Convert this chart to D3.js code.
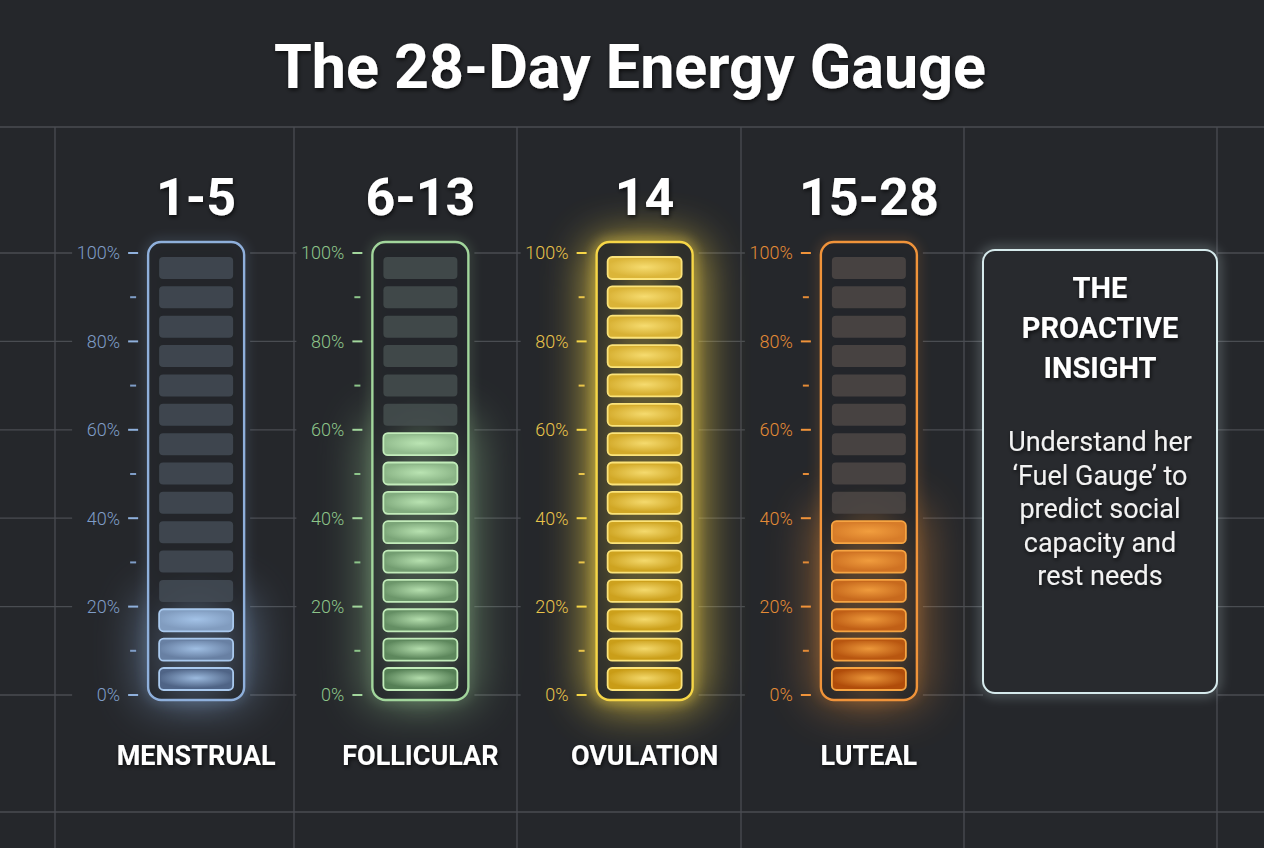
<!DOCTYPE html>
<html lang="en">
<head>
<meta charset="UTF-8" />
<title>The 28-Day Energy Gauge</title>
<script src="https://d3js.org/d3.v7.min.js"></script>
<style>
  html, body { margin: 0; padding: 0; background: #25272b; }
  body { font-family: Roboto, "Noto Sans", sans-serif; }
  svg { display: block; }
</style>
</head>
<body>
<div id="chart"></div>
<script>
// data
const phases = ["MENSTRUAL", "FOLLICULAR", "OVULATION", "LUTEAL"];
const dayRanges = ["1-5", "6-13", "14", "15-28"];
const energyPct = [20, 60, 100, 40];
const majorTicks = [0, 20, 40, 60, 80, 100];
const minorTicks = [10, 30, 50, 70, 90];
const segmentCount = 15;

// colours per phase
const strokeColors = ["#8fb0dc", "#a2d69c", "#f6d647", "#f0933a"];
const labelColors = ["#7f9dc7", "#8dc58a", "#e9c44a", "#e48b36"];
const fillDark = ["#4f6486", "#557f55", "#c99c16", "#b04c0a"];
const fillLight = ["#a9c9ee", "#c2ecba", "#fbe37a", "#f6a442"];

const insightTitle = ["THE", "PROACTIVE", "INSIGHT"];
const insightBody = ["Understand her", "\u2018Fuel Gauge\u2019 to", "predict social", "capacity and", "rest needs"];

const W = 1264, H = 848;
const bg = "#25272b";
const gridColor = "#4a4d52";

const svg = d3.select("#chart").append("svg")
  .attr("width", W).attr("height", H);

const defs = svg.append("defs");
[3, 6, 14, 22].forEach(s => {
  defs.append("filter").attr("id", "blur" + s)
    .attr("x", "-100%").attr("y", "-100%").attr("width", "300%").attr("height", "300%")
    .append("feGaussianBlur").attr("stdDeviation", s);
});
const sh = defs.append("filter").attr("id", "shadow")
  .attr("x", "-20%").attr("y", "-40%").attr("width", "140%").attr("height", "180%");
sh.append("feDropShadow").attr("dx", 1).attr("dy", 2).attr("stdDeviation", 2)
  .attr("flood-color", "#000").attr("flood-opacity", 0.7);

svg.append("rect").attr("width", W).attr("height", H).attr("fill", bg);

// scales
const x = d3.scaleBand().domain(phases).range([84, 981]);
const y = d3.scaleLinear().domain([0, 100]).range([695, 253]);
const seg = d3.scaleBand().domain(d3.range(segmentCount))
  .range([y(0) - 5, y(100) + 4]).paddingInner(0.25);
const cx = p => x(p) + x.bandwidth() / 2;

const gaugeW = 96, segW = 74;
const box = { x: 983, y: 250, w: 234, h: 443 };

// grid
const grid = svg.append("g");
const gridX = [55, 294, 517, 741, 964, 1217];
grid.selectAll("line.v").data(gridX).join("line")
  .attr("x1", d => d).attr("x2", d => d).attr("y1", 127).attr("y2", H)
  .attr("stroke", gridColor).attr("stroke-width", 1.3);
grid.selectAll("line.h").data([127, 812]).join("line")
  .attr("x1", 0).attr("x2", W).attr("y1", d => d).attr("y2", d => d)
  .attr("stroke", gridColor).attr("stroke-width", 1.3);

// tick rows, broken around each gauge and the insight box
const gaps = phases.map(p => [cx(p) - 124, cx(p) + 54]).concat([[box.x, box.x + box.w]]);
const rowPieces = [];
let start = 0;
gaps.forEach(g => { rowPieces.push([start, g[0]]); start = g[1]; });
rowPieces.push([start, W]);
majorTicks.forEach(t => {
  grid.selectAll(null).data(rowPieces).join("line")
    .attr("x1", d => d[0]).attr("x2", d => d[1])
    .attr("y1", y(t)).attr("y2", y(t))
    .attr("stroke", gridColor).attr("stroke-width", 1.3);
});

// title
svg.append("text").attr("x", 630).attr("y", 88)
  .attr("text-anchor", "middle").attr("fill", "#fff")
  .attr("font-size", 61).attr("font-weight", 700)
  .attr("filter", "url(#shadow)")
  .text("The 28-Day Energy Gauge");

// gauges
phases.forEach((p, i) => {
  const c = cx(p);
  const g = svg.append("g");
  const filled = Math.round(energyPct[i] / 100 * segmentCount);
  const col = strokeColors[i];
  const fTop = seg(filled - 1);
  const fBottom = seg(0) + seg.bandwidth();

  // halo around lit segments
  const haloOp = i === 2 ? 0.7 : 0.4;
  g.append("rect")
    .attr("x", c - gaugeW / 2 - 10).attr("y", fTop - 18)
    .attr("width", gaugeW + 20).attr("height", fBottom - fTop + 36)
    .attr("rx", 24).attr("fill", col).attr("opacity", haloOp)
    .attr("filter", "url(#blur22)");

  // frame glow
  g.append("rect")
    .attr("x", c - gaugeW / 2).attr("y", y(100) - 11)
    .attr("width", gaugeW).attr("height", y(0) - y(100) + 16)
    .attr("rx", 13).attr("fill", "none").attr("stroke", col)
    .attr("stroke-width", 4).attr("opacity", i === 2 ? 0.8 : 0.35)
    .attr("filter", "url(#blur6)");

  g.append("rect")
    .attr("x", c - gaugeW / 2).attr("y", y(100) - 11)
    .attr("width", gaugeW).attr("height", y(0) - y(100) + 16)
    .attr("rx", 13).attr("fill", "#23262a").attr("fill-opacity", 0.9)
    .attr("stroke", col).attr("stroke-width", 2.4);

  // inner light spill
  g.append("ellipse")
    .attr("cx", c).attr("cy", (fTop + fBottom) / 2)
    .attr("rx", 40).attr("ry", (fBottom - fTop) / 2 + 14)
    .attr("fill", col).attr("opacity", 0.22)
    .attr("filter", "url(#blur14)");

  // radial highlight for lit cells, tinted with the phase colour
  const gradH = defs.append("radialGradient").attr("id", "cell" + i)
    .attr("cx", "50%").attr("cy", "45%").attr("r", "55%");
  gradH.append("stop").attr("offset", "0%").attr("stop-color", fillLight[i]).attr("stop-opacity", 0.85);
  gradH.append("stop").attr("offset", "100%").attr("stop-color", fillLight[i]).attr("stop-opacity", 0);

  const cellCol = d3.scaleLinear().domain([0, Math.max(filled - 1, 1)])
    .range([fillDark[i], d3.interpolateRgb(fillDark[i], fillLight[i])(i === 2 ? 0.35 : 0.55)]);
  const emptyFill = d3.interpolateRgb("#3b4046", col)(0.1);

  d3.range(segmentCount).forEach(k => {
    const lit = k < filled;
    const sy = seg(k);
    if (lit) {
      g.append("rect")
        .attr("x", c - segW / 2).attr("y", sy)
        .attr("width", segW).attr("height", seg.bandwidth())
        .attr("rx", 4.5).attr("fill", cellCol(k))
        .attr("stroke", fillLight[i]).attr("stroke-width", 1.8);
      g.append("rect")
        .attr("x", c - segW / 2 + 2).attr("y", sy + 2)
        .attr("width", segW - 4).attr("height", seg.bandwidth() - 4)
        .attr("rx", 3.5).attr("fill", "url(#cell" + i + ")");
    } else {
      g.append("rect")
        .attr("x", c - segW / 2).attr("y", sy)
        .attr("width", segW).attr("height", seg.bandwidth())
        .attr("rx", 4).attr("fill", emptyFill).attr("opacity", 0.85);
    }
  });

  // axis: ticks and labels
  const ax = g.append("g");
  ax.selectAll("line.glow").data(majorTicks).join("line")
    .attr("x1", c - 68).attr("x2", c - 58)
    .attr("y1", d => y(d)).attr("y2", d => y(d))
    .attr("stroke", col).attr("stroke-width", 5).attr("opacity", 0.6)
    .attr("filter", "url(#blur3)");
  ax.selectAll("line.major").data(majorTicks).join("line")
    .attr("x1", c - 68).attr("x2", c - 58)
    .attr("y1", d => y(d)).attr("y2", d => y(d))
    .attr("stroke", col).attr("stroke-width", 2);
  ax.selectAll("line.minor").data(minorTicks).join("line")
    .attr("x1", c - 66).attr("x2", c - 60)
    .attr("y1", d => y(d)).attr("y2", d => y(d))
    .attr("stroke", labelColors[i]).attr("stroke-width", 2);
  ax.selectAll("text").data(majorTicks).join("text")
    .attr("x", c - 76).attr("y", d => y(d))
    .attr("dy", "0.36em").attr("text-anchor", "end")
    .attr("fill", labelColors[i]).attr("font-size", 18).attr("font-weight", 300)
    .text(d => d + "%");

  // day range + phase name
  svg.append("text").attr("x", c).attr("y", 215)
    .attr("text-anchor", "middle").attr("fill", "#fff")
    .attr("font-size", 52).attr("font-weight", 700)
    .attr("filter", "url(#shadow)")
    .text(dayRanges[i]);
  svg.append("text").attr("x", c).attr("y", 765)
    .attr("text-anchor", "middle").attr("fill", "#fff")
    .attr("font-size", 27).attr("font-weight", 700)
    .attr("filter", "url(#shadow)")
    .text(p);
});

// insight box
const ib = svg.append("g");
ib.append("rect")
  .attr("x", box.x).attr("y", box.y).attr("width", box.w).attr("height", box.h)
  .attr("rx", 12).attr("fill", "none").attr("stroke", "#cfe6e8")
  .attr("stroke-width", 5).attr("opacity", 0.45).attr("filter", "url(#blur6)");
ib.append("rect")
  .attr("x", box.x).attr("y", box.y).attr("width", box.w).attr("height", box.h)
  .attr("rx", 12).attr("fill", "#282a2e")
  .attr("stroke", "#d6eaec").attr("stroke-width", 2);

const bx = box.x + box.w / 2;
ib.selectAll("text.t").data(insightTitle).join("text")
  .attr("x", bx).attr("y", (d, k) => 298 + k * 40)
  .attr("text-anchor", "middle").attr("fill", "#fff")
  .attr("font-size", 29).attr("font-weight", 700)
  .attr("filter", "url(#shadow)")
  .text(d => d);
ib.selectAll("text.b").data(insightBody).join("text")
  .attr("x", bx).attr("y", (d, k) => 451 + k * 33.5)
  .attr("text-anchor", "middle").attr("fill", "#f2f2f2")
  .attr("font-size", 27)
  .attr("filter", "url(#shadow)")
  .text(d => d);
</script>
</body>
</html>
